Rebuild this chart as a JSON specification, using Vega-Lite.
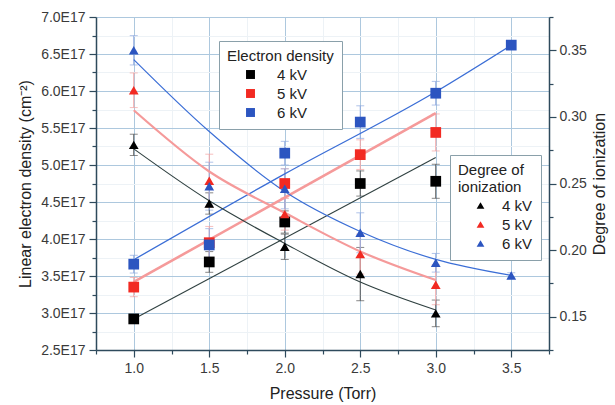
{
  "$schema": "https://vega.github.io/schema/vega-lite/v6.json",
  "width": 453,
  "height": 333,
  "autosize": {"type": "none"},
  "padding": {"left": 96, "top": 17, "right": 66, "bottom": 55},
  "background": "white",
  "config": {
    "font": "Liberation Sans",
    "view": {"stroke": null},
    "axis": {
      "domainColor": "#2e4a5c",
      "domainWidth": 1.5,
      "tickColor": "#2e4a5c",
      "tickWidth": 1.2,
      "labelFontSize": 14,
      "labelColor": "#3a3a3a",
      "titleFontSize": 16,
      "titleFontWeight": "normal",
      "titleColor": "#222222",
      "gridWidth": 1,
      "labelOverlap": false,
      "labelFlush": false
    },
    "legend": {
      "titleFontSize": 15,
      "titleFontWeight": "normal",
      "titleColor": "#222222",
      "labelFontSize": 15,
      "labelColor": "#222222",
      "strokeColor": "#8aa0aa",
      "fillColor": "white",
      "padding": 8,
      "rowPadding": 3,
      "titlePadding": 3
    }
  },
  "datasets": {
    "density": [
      {"pressure": 1.0, "voltage": "4 kV", "density": 2.92e17, "low": 2.87e17, "high": 2.97e17},
      {"pressure": 1.5, "voltage": "4 kV", "density": 3.69e17, "low": 3.55e17, "high": 3.83e17},
      {"pressure": 2.0, "voltage": "4 kV", "density": 4.23e17, "low": 4.08e17, "high": 4.38e17},
      {"pressure": 2.5, "voltage": "4 kV", "density": 4.75e17, "low": 4.58e17, "high": 4.92e17},
      {"pressure": 3.0, "voltage": "4 kV", "density": 4.78e17, "low": 4.55e17, "high": 5.01e17},
      {"pressure": 1.0, "voltage": "5 kV", "density": 3.35e17, "low": 3.22e17, "high": 3.48e17},
      {"pressure": 1.5, "voltage": "5 kV", "density": 3.95e17, "low": 3.73e17, "high": 4.17e17},
      {"pressure": 2.0, "voltage": "5 kV", "density": 4.75e17, "low": 4.55e17, "high": 4.95e17},
      {"pressure": 2.5, "voltage": "5 kV", "density": 5.14e17, "low": 4.94e17, "high": 5.34e17},
      {"pressure": 3.0, "voltage": "5 kV", "density": 5.44e17, "low": 5.19e17, "high": 5.69e17},
      {"pressure": 1.0, "voltage": "6 kV", "density": 3.66e17, "low": 3.54e17, "high": 3.78e17},
      {"pressure": 1.5, "voltage": "6 kV", "density": 3.92e17, "low": 3.70e17, "high": 4.14e17},
      {"pressure": 2.0, "voltage": "6 kV", "density": 5.16e17, "low": 5.00e17, "high": 5.32e17},
      {"pressure": 2.5, "voltage": "6 kV", "density": 5.58e17, "low": 5.36e17, "high": 5.80e17},
      {"pressure": 3.0, "voltage": "6 kV", "density": 5.97e17, "low": 5.81e17, "high": 6.13e17},
      {"pressure": 3.5, "voltage": "6 kV", "density": 6.62e17, "low": 6.59e17, "high": 6.65e17}
    ],
    "densityFit": [
      {"pressure": 1.0, "voltage": "4 kV", "density": 2.92e17},
      {"pressure": 3.0, "voltage": "4 kV", "density": 5.10e17},
      {"pressure": 1.0, "voltage": "5 kV", "density": 3.42e17},
      {"pressure": 3.0, "voltage": "5 kV", "density": 5.70e17},
      {"pressure": 1.0, "voltage": "6 kV", "density": 3.72e17},
      {"pressure": 2.0, "voltage": "6 kV", "density": 4.88e17},
      {"pressure": 3.0, "voltage": "6 kV", "density": 5.99e17},
      {"pressure": 3.5, "voltage": "6 kV", "density": 6.62e17}
    ],
    "ionization": [
      {"pressure": 1.0, "voltage": "4 kV", "degree": 0.279, "low": 0.271, "high": 0.287},
      {"pressure": 1.5, "voltage": "4 kV", "degree": 0.235, "low": 0.227, "high": 0.243},
      {"pressure": 2.0, "voltage": "4 kV", "degree": 0.2025, "low": 0.193, "high": 0.212},
      {"pressure": 2.5, "voltage": "4 kV", "degree": 0.182, "low": 0.162, "high": 0.202},
      {"pressure": 3.0, "voltage": "4 kV", "degree": 0.1525, "low": 0.1425, "high": 0.1625},
      {"pressure": 1.0, "voltage": "5 kV", "degree": 0.320, "low": 0.307, "high": 0.333},
      {"pressure": 1.5, "voltage": "5 kV", "degree": 0.252, "low": 0.232, "high": 0.272},
      {"pressure": 2.0, "voltage": "5 kV", "degree": 0.227, "low": 0.215, "high": 0.239},
      {"pressure": 2.5, "voltage": "5 kV", "degree": 0.197, "low": 0.182, "high": 0.212},
      {"pressure": 3.0, "voltage": "5 kV", "degree": 0.174, "low": 0.159, "high": 0.189},
      {"pressure": 1.0, "voltage": "6 kV", "degree": 0.350, "low": 0.339, "high": 0.361},
      {"pressure": 1.5, "voltage": "6 kV", "degree": 0.248, "low": 0.230, "high": 0.266},
      {"pressure": 2.0, "voltage": "6 kV", "degree": 0.246, "low": 0.231, "high": 0.261},
      {"pressure": 2.5, "voltage": "6 kV", "degree": 0.213, "low": 0.198, "high": 0.228},
      {"pressure": 3.0, "voltage": "6 kV", "degree": 0.1905, "low": 0.1835, "high": 0.1975},
      {"pressure": 3.5, "voltage": "6 kV", "degree": 0.181, "low": 0.179, "high": 0.183}
    ],
    "ionizationFit": [
      {"pressure": 1.0, "voltage": "4 kV", "degree": 0.276},
      {"pressure": 1.5, "voltage": "4 kV", "degree": 0.237},
      {"pressure": 2.0, "voltage": "4 kV", "degree": 0.205},
      {"pressure": 2.5, "voltage": "4 kV", "degree": 0.176},
      {"pressure": 3.0, "voltage": "4 kV", "degree": 0.155},
      {"pressure": 1.0, "voltage": "5 kV", "degree": 0.305},
      {"pressure": 1.5, "voltage": "5 kV", "degree": 0.259},
      {"pressure": 2.0, "voltage": "5 kV", "degree": 0.228},
      {"pressure": 2.5, "voltage": "5 kV", "degree": 0.199},
      {"pressure": 3.0, "voltage": "5 kV", "degree": 0.1775},
      {"pressure": 1.0, "voltage": "6 kV", "degree": 0.343},
      {"pressure": 1.5, "voltage": "6 kV", "degree": 0.289},
      {"pressure": 2.0, "voltage": "6 kV", "degree": 0.244},
      {"pressure": 2.5, "voltage": "6 kV", "degree": 0.214},
      {"pressure": 3.0, "voltage": "6 kV", "degree": 0.193},
      {"pressure": 3.5, "voltage": "6 kV", "degree": 0.181}
    ]
  },
  "layer": [
    {
      "data": {"name": "density"},
      "mark": {"type": "errorbar", "ticks": {"size": 8}},
      "encoding": {
        "x": {
          "field": "pressure", "type": "quantitative",
          "scale": {"domain": [0.75, 3.75], "nice": false, "zero": false},
          "axis": {"orient": "bottom", "values": [0.75, 1.25, 1.75, 2.25, 2.75, 3.25, 3.75], "labels": false, "domain": false, "tickSize": 4, "grid": true, "gridColor": "#edf2f6", "title": null}
        },
        "y": {
          "field": "low", "type": "quantitative",
          "scale": {"domain": [2.5e17, 7.0e17], "nice": false, "zero": false},
          "axis": {"orient": "left", "values": [2.75e17, 3.25e17, 3.75e17, 4.25e17, 4.75e17, 5.25e17, 5.75e17, 6.25e17, 6.75e17], "labels": false, "domain": false, "tickSize": 4, "grid": true, "gridColor": "#edf2f6", "title": null}
        },
        "y2": {"field": "high"},
        "color": {
          "field": "voltage", "type": "nominal",
          "scale": {"domain": ["4 kV", "5 kV", "6 kV"], "range": ["#555555", "#f3a3a3", "#8fa9e0"]},
          "legend": null
        }
      }
    },
    {
      "data": {"name": "ionization"},
      "mark": {"type": "errorbar", "ticks": {"size": 8}},
      "encoding": {
        "x": {
          "field": "pressure", "type": "quantitative",
          "scale": {"domain": [0.75, 3.75], "nice": false, "zero": false},
          "axis": null
        },
        "y": {
          "field": "low", "type": "quantitative",
          "scale": {"domain": [0.125, 0.375], "nice": false, "zero": false},
          "axis": {"orient": "right", "values": [0.125, 0.175, 0.225, 0.275, 0.325, 0.375], "labels": false, "domain": false, "tickSize": 4, "grid": false, "title": null}
        },
        "y2": {"field": "high"},
        "color": {
          "field": "voltage", "type": "nominal",
          "scale": {"domain": ["4 kV", "5 kV", "6 kV"], "range": ["#555555", "#f3a3a3", "#8fa9e0"]},
          "legend": null
        }
      }
    },
    {
      "data": {"name": "densityFit"},
      "mark": {"type": "line", "interpolate": "monotone"},
      "encoding": {
        "x": {
          "field": "pressure", "type": "quantitative", "title": "Pressure (Torr)",
          "scale": {"domain": [0.75, 3.75], "nice": false, "zero": false},
          "axis": {"orient": "bottom", "values": [1.0, 1.5, 2.0, 2.5, 3.0, 3.5], "format": ".1f", "tickSize": 7, "grid": true, "gridColor": "#adc8de", "labelPadding": 4, "titlePadding": 10}
        },
        "y": {
          "field": "density", "type": "quantitative", "title": "Linear electron density (cm⁻²)",
          "scale": {"domain": [2.5e17, 7.0e17], "nice": false, "zero": false},
          "axis": {
            "orient": "left",
            "values": [2.5e17, 3.5e17, 4.5e17, 5.5e17, 6.5e17],
            "labelExpr": "format(datum.value/1e17, '.1f') + 'E17'",
            "tickSize": 7, "grid": true, "gridColor": "#adc8de", "labelPadding": 4, "titlePadding": 7
          }
        },
        "stroke": {
          "field": "voltage", "type": "nominal",
          "scale": {"type": "ordinal", "domain": ["4 kV", "5 kV", "6 kV"], "range": ["#2f4040", "#f59a9a", "#3b6ed6"]},
          "legend": null
        },
        "strokeWidth": {
          "field": "voltage", "type": "nominal",
          "scale": {"type": "ordinal", "domain": ["4 kV", "5 kV", "6 kV"], "range": [1.1, 2.6, 1.3]},
          "legend": null
        }
      }
    },
    {
      "data": {"name": "ionizationFit"},
      "mark": {"type": "line", "interpolate": "monotone"},
      "encoding": {
        "x": {
          "field": "pressure", "type": "quantitative",
          "scale": {"domain": [0.75, 3.75], "nice": false, "zero": false},
          "axis": null
        },
        "y": {
          "field": "degree", "type": "quantitative", "title": "Degree of ionization",
          "scale": {"domain": [0.125, 0.375], "nice": false, "zero": false},
          "axis": {
            "orient": "right",
            "values": [0.15, 0.2, 0.25, 0.3, 0.35],
            "format": ".2f",
            "tickSize": 7, "grid": false, "labelPadding": 3, "titlePadding": 21, "titleAngle": 270
          }
        },
        "stroke": {
          "field": "voltage", "type": "nominal",
          "scale": {"type": "ordinal", "domain": ["4 kV", "5 kV", "6 kV"], "range": ["#2f4040", "#f59a9a", "#3b6ed6"]},
          "legend": null
        },
        "strokeWidth": {
          "field": "voltage", "type": "nominal",
          "scale": {"type": "ordinal", "domain": ["4 kV", "5 kV", "6 kV"], "range": [1.1, 2.2, 1.2]},
          "legend": null
        }
      }
    },
    {
      "data": {"name": "density"},
      "mark": {"type": "point", "shape": "square", "filled": true, "size": 115, "opacity": 1},
      "encoding": {
        "x": {
          "field": "pressure", "type": "quantitative",
          "scale": {"domain": [0.75, 3.75], "nice": false, "zero": false},
          "axis": null
        },
        "y": {
          "field": "density", "type": "quantitative",
          "scale": {"domain": [2.5e17, 7.0e17], "nice": false, "zero": false},
          "axis": {
            "orient": "left",
            "values": [3.0e17, 4.0e17, 5.0e17, 6.0e17, 7.0e17],
            "labelExpr": "format(datum.value/1e17, '.1f') + 'E17'",
            "domain": false, "tickSize": 7, "grid": true, "gridColor": "#adc8de", "labelPadding": 4, "title": null
          }
        },
        "fill": {
          "field": "voltage", "type": "nominal",
          "scale": {"domain": ["4 kV", "5 kV", "6 kV"], "range": ["#000000", "#f22a22", "#2c55c0"]},
          "legend": {"orient": "none", "title": "Electron density", "legendX": 123, "legendY": 24, "symbolType": "square", "symbolSize": 80, "symbolOffset": 16, "labelOffset": 19}
        }
      }
    },
    {
      "data": {"name": "ionization"},
      "mark": {"type": "point", "shape": "triangle-up", "filled": true, "size": 95, "opacity": 1},
      "encoding": {
        "x": {
          "field": "pressure", "type": "quantitative",
          "scale": {"domain": [0.75, 3.75], "nice": false, "zero": false},
          "axis": null
        },
        "y": {
          "field": "degree", "type": "quantitative",
          "scale": {"domain": [0.125, 0.375], "nice": false, "zero": false},
          "axis": null
        },
        "fill": {
          "field": "voltage", "type": "nominal",
          "scale": {"domain": ["4 kV", "5 kV", "6 kV"], "range": ["#000000", "#f22a22", "#2c55c0"]},
          "legend": {"orient": "none", "title": ["Degree of", "ionization"], "legendX": 354, "legendY": 138, "symbolType": "triangle-up", "symbolSize": 60, "symbolOffset": 15, "labelOffset": 14}
        }
      }
    }
  ],
  "resolve": {
    "scale": {"x": "independent", "y": "independent", "fill": "independent", "stroke": "independent", "color": "independent", "strokeWidth": "independent"},
    "axis": {"x": "independent", "y": "independent"},
    "legend": {"fill": "independent"}
  }
}
